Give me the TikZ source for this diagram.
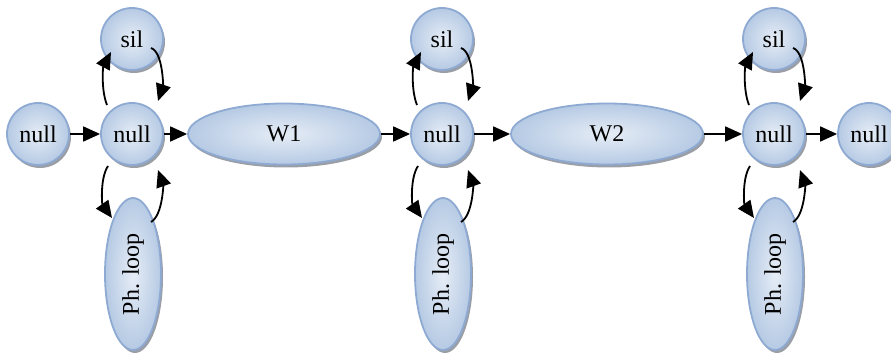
\documentclass[tikz,border=0pt]{standalone}
\usepackage{fontspec}
\setmainfont{Liberation Serif}
\usetikzlibrary{arrows.meta,shapes.geometric,shadows,calc}
\definecolor{nodelight}{HTML}{E6EDF6}
\definecolor{nodedark}{HTML}{B6CAE4}
\definecolor{nodeedge}{HTML}{8EAAD2}
\definecolor{shadowgray}{HTML}{9A9EA6}

\begin{document}
\begin{tikzpicture}[x=1pt,y=-1pt,
  state/.style={ellipse, draw=nodeedge, line width=1.8pt,
    inner color=nodelight, outer color=nodedark, inner sep=0pt,
    font=\fontsize{24}{26}\selectfont,
    drop shadow={shadow xshift=2pt, shadow yshift=-3pt, fill=shadowgray, opacity=1}},
  dot/.style={state, circle, minimum size=62pt},
  word/.style={state, minimum width=192pt, minimum height=61pt},
  phone/.style={state, minimum width=56pt, minimum height=152pt},
  link/.style={-{Triangle[length=17pt,width=15pt]}, line width=1.8pt, black},
]
\useasboundingbox (0,0) rectangle (891,355);

% main chain
\node[dot] (n1) at (38,134) {null};
\node[dot] (n2) at (132,134) {null};
\node[word] (w1) at (284,134) {W1};
\node[dot] (n3) at (442,134) {null};
\node[word] (w2) at (607,134) {W2};
\node[dot] (n4) at (774,134) {null};
\node[dot] (n5) at (869,134) {null};

% silence and phone-loop branches
\foreach \i/\x in {2/132, 3/442, 4/774} {
  \node[dot] (s\i) at (\x,39) {sil};
  \node[phone] (p\i) at (\x+1,274) {\rotatebox{90}{Ph. loop}};
}

\draw[link] (n1) -- (n2);
\draw[link] (n2) -- (w1);
\draw[link] (w1) -- (n3);
\draw[link] (n3) -- (w2);
\draw[link] (w2) -- (n4);
\draw[link] (n4) -- (n5);

\foreach \i in {2,3,4} {
  \draw[link] ($(n\i.center)+(-25,-29)$) .. controls +(-6,-15) and +(-8,15) .. ($(s\i.center)+(-21,13)$);
  \draw[link] ($(s\i.center)+(19,9)$) .. controls +(12,4) and +(5,-15) .. ($(n\i.center)+(26,-33)$);
  \draw[link] ($(n\i.center)+(-24,32)$) .. controls +(-8,12) and +(-10,-14) .. ($(p\i.center)+(-21,-56)$);
  \draw[link] ($(p\i.center)+(18,-52)$) .. controls +(12,-7) and +(5,14) .. ($(n\i.center)+(26,36)$);
}
\end{tikzpicture}
\end{document}
